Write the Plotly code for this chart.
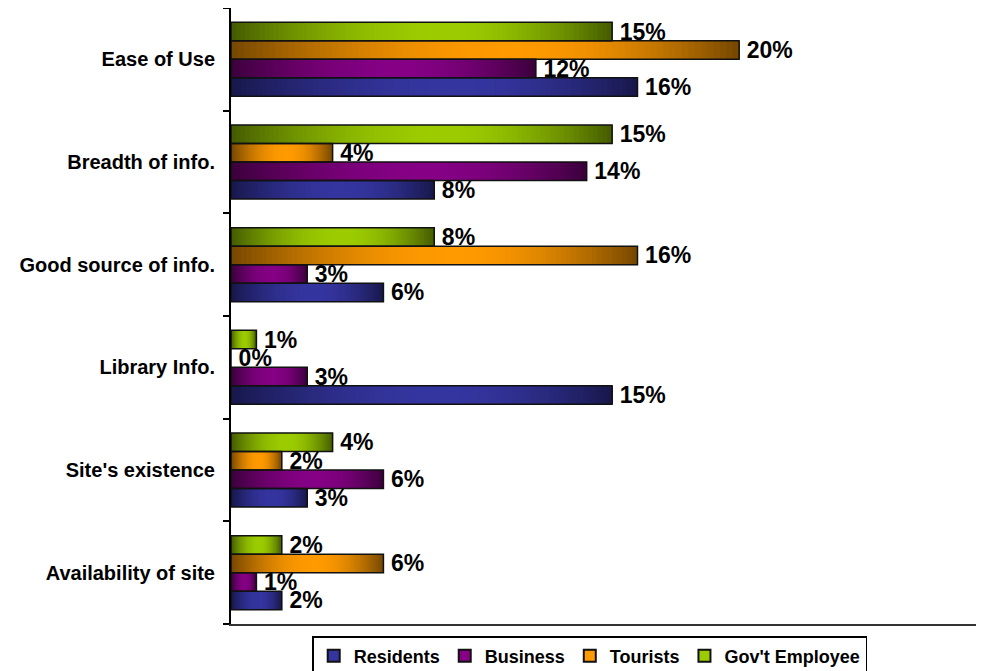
import math
import plotly.graph_objects as go

# ---- data ----
categories = ["Ease of Use", "Breadth of info.", "Good source of info.",
              "Library Info.", "Site's existence", "Availability of site"]
series_names = ["Residents", "Business", "Tourists", "Gov't Employee"]
residents = [16, 8, 6, 15, 3, 2]
business = [12, 14, 3, 3, 6, 1]
tourists = [20, 4, 16, 0, 2, 6]
gov_employee = [15, 15, 8, 1, 4, 2]
series_values = [residents, business, tourists, gov_employee]

# ---- styles ----
bright = ["#3535a0", "#850085", "#ff9a00", "#9ccc00"]
dark = ["#17174a", "#3a003a", "#734600", "#435a00"]
N_SEG = 80
FONT = "Liberation Sans, Arial, sans-serif"


def hex2rgb(h):
    h = h.lstrip("#")
    return tuple(int(h[i:i + 2], 16) for i in (0, 2, 4))


def mix(c_dark, c_bright, f):
    a, b = hex2rgb(c_dark), hex2rgb(c_bright)
    return "rgb(%d,%d,%d)" % tuple(round(a[i] + (b[i] - a[i]) * f) for i in range(3))


def shade(t, peak=0.55):
    u = t / peak if t < peak else (1 - t) / (1 - peak)
    return math.sin(u * math.pi / 2) ** 0.9


fig = go.Figure()

# gradient fill: overlapping segments, each running to the bar's end
for s, (name, vals) in enumerate(zip(series_names, series_values)):
    for k in range(N_SEG):
        t = (k + 0.5) / N_SEG
        fig.add_trace(go.Bar(
            y=categories,
            x=[v * (N_SEG - k) / N_SEG for v in vals],
            base=[v * k / N_SEG for v in vals],
            orientation="h",
            offsetgroup=name,
            marker=dict(color=mix(dark[s], bright[s], shade(t)), line=dict(width=0)),
            showlegend=False,
            hoverinfo="skip",
        ))

# outlines + value labels
for s, (name, vals) in enumerate(zip(series_names, series_values)):
    fig.add_trace(go.Bar(
        y=categories,
        x=vals,
        orientation="h",
        offsetgroup=name,
        name=name,
        marker=dict(color="rgba(0,0,0,0)", line=dict(color="#111111", width=1.5)),
        text=[f"\u2009{v}%" for v in vals],
        textposition="outside",
        textfont=dict(family=FONT, size=23, color="black", weight="bold"),
        constraintext="none",
        cliponaxis=False,
        showlegend=False,
    ))

# legend entries
for s, name in enumerate(series_names):
    fig.add_trace(go.Bar(
        y=[None], x=[None], orientation="h", offsetgroup=name, name=name,
        marker=dict(color=bright[s], line=dict(color="#111111", width=1)),
        showlegend=True,
    ))

fig.update_layout(
    width=976, height=663,
    margin=dict(l=223, r=1, t=0, b=47, autoexpand=False),
    paper_bgcolor="white", plot_bgcolor="white",
    barmode="group", bargap=0.28, bargroupgap=0,
    font=dict(family=FONT, color="black"),
    showlegend=True,
    legend=dict(
        orientation="h", x=0.477, xanchor="center", y=-0.0195, yanchor="top",
        bordercolor="black", borderwidth=1.5, bgcolor="white",
        font=dict(family=FONT, size=18, color="black", weight="bold"),
        traceorder="normal", itemsizing="constant",
    ),
    xaxis=dict(
        range=[0, 29.6], showgrid=False, zeroline=False, showticklabels=False,
        ticks="", showline=True, mirror=True, linecolor="#333333", linewidth=2,
        automargin=False,
    ),
    yaxis=dict(
        categoryorder="array", categoryarray=categories[::-1],
        showgrid=False, zeroline=False, showline=True, linecolor="black", linewidth=2,
        ticks="outside", tickson="boundaries", ticklen=6, tickcolor="black", tickwidth=1.5,
        tickfont=dict(family=FONT, size=20, color="black", weight="bold"),
        ticklabelstandoff=10, automargin=False,
    ),
)

fig.write_html("out.html")
